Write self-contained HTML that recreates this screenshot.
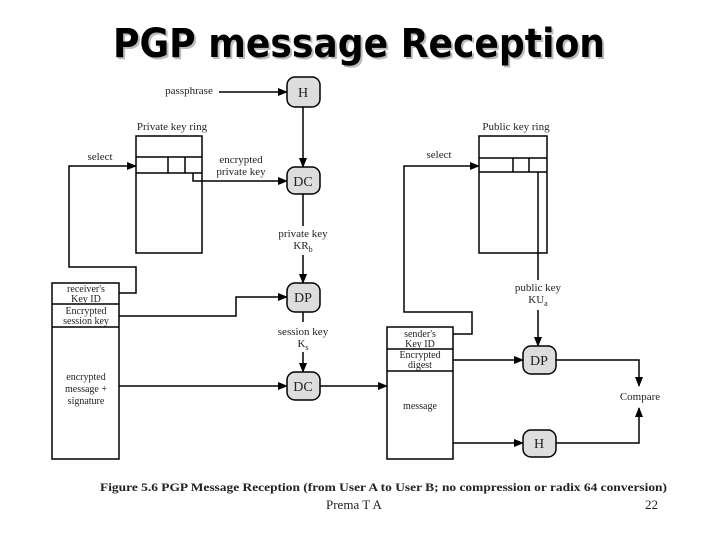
<!DOCTYPE html>
<html><head><meta charset="utf-8"><style>
html,body{margin:0;padding:0;background:#fff;}
svg{display:block;}
text{font-family:"Liberation Serif",serif;fill:#222;}
</style></head><body>
<svg width="720" height="540" viewBox="0 0 720 540" xmlns="http://www.w3.org/2000/svg">
<defs>
<marker id="a" markerWidth="10" markerHeight="8" refX="9" refY="4" orient="auto" markerUnits="userSpaceOnUse">
<path d="M0,0 L10,4 L0,8 z" fill="#000"/></marker>
</defs>
<text x="361" y="59" font-family="DejaVu Sans" font-weight="bold" font-size="40" textLength="492" lengthAdjust="spacingAndGlyphs" text-anchor="middle" style="font-family:'DejaVu Sans',sans-serif;fill:#bbb">PGP message Reception</text>
<text x="359" y="57" font-weight="bold" font-size="40" textLength="492" lengthAdjust="spacingAndGlyphs" text-anchor="middle" style="font-family:'DejaVu Sans',sans-serif;fill:#000">PGP message Reception</text>

<g stroke="#000" stroke-width="1.5" fill="none">
<!-- private key ring -->
<rect x="136" y="136" width="66" height="117"/>
<line x1="136" y1="157" x2="202" y2="157"/><line x1="136" y1="173" x2="202" y2="173"/>
<line x1="168" y1="157" x2="168" y2="173"/><line x1="185" y1="157" x2="185" y2="173"/>
<!-- public key ring -->
<rect x="479" y="136" width="68" height="117"/>
<line x1="479" y1="158" x2="547" y2="158"/><line x1="479" y1="172" x2="547" y2="172"/>
<line x1="513" y1="158" x2="513" y2="172"/><line x1="529" y1="158" x2="529" y2="172"/>
<!-- receiver box -->
<rect x="52" y="283" width="67" height="176"/>
<line x1="52" y1="304" x2="119" y2="304"/><line x1="52" y1="327" x2="119" y2="327"/>
<!-- sender box -->
<rect x="387" y="327" width="66" height="132"/>
<line x1="387" y1="349" x2="453" y2="349"/><line x1="387" y1="371" x2="453" y2="371"/>
<!-- connectors -->
<line x1="219" y1="92" x2="287" y2="92" marker-end="url(#a)"/>
<line x1="303" y1="107" x2="303" y2="167" marker-end="url(#a)"/>
<polyline points="193,173 193,181 287,181" marker-end="url(#a)"/>
<line x1="303" y1="194" x2="303" y2="226"/>
<line x1="303" y1="255" x2="303" y2="283" marker-end="url(#a)"/>
<polyline points="119,293 136,293 136,267 69,267 69,166 136,166" marker-end="url(#a)"/>
<polyline points="119,316 236,316 236,297 287,297" marker-end="url(#a)"/>
<line x1="303" y1="312" x2="303" y2="322"/>
<line x1="303" y1="352" x2="303" y2="372" marker-end="url(#a)"/>
<line x1="119" y1="386" x2="287" y2="386" marker-end="url(#a)"/>
<line x1="320" y1="386" x2="387" y2="386" marker-end="url(#a)"/>
<polyline points="453,334 472,334 472,312 404,312 404,166 479,166" marker-end="url(#a)"/>
<line x1="538" y1="172" x2="538" y2="280"/>
<line x1="538" y1="310" x2="538" y2="346" marker-end="url(#a)"/>
<line x1="453" y1="360" x2="523" y2="360" marker-end="url(#a)"/>
<line x1="453" y1="443" x2="523" y2="443" marker-end="url(#a)"/>
<polyline points="556,360 639,360 639,386" marker-end="url(#a)"/>
<polyline points="556,443 639,443 639,408" marker-end="url(#a)"/>
</g>
<g fill="#ddd" stroke="#000" stroke-width="1.5">
<rect x="287" y="77" width="33" height="30" rx="8"/>
<rect x="287" y="167" width="33" height="27" rx="8"/>
<rect x="287" y="283" width="33" height="29" rx="8"/>
<rect x="287" y="372" width="33" height="28" rx="8"/>
<rect x="523" y="346" width="33" height="28" rx="8"/>
<rect x="523" y="430" width="33" height="27" rx="8"/>
</g>
<g font-size="14" text-anchor="middle">
<text x="303" y="97">H</text>
<text x="303" y="186">DC</text>
<text x="303" y="302">DP</text>
<text x="303" y="391">DC</text>
<text x="539" y="365">DP</text>
<text x="539" y="448">H</text>
</g>
<g font-size="11" text-anchor="middle">
<text x="189" y="94">passphrase</text>
<text x="172" y="130">Private key ring</text>
<text x="516" y="130">Public key ring</text>
<text x="100" y="160">select</text>
<text x="439" y="158">select</text>
<text x="241" y="163">encrypted</text>
<text x="241" y="175">private key</text>
<text x="303" y="237">private key</text>
<text x="303" y="249">KR<tspan font-size="8" dy="3">b</tspan></text>
<text x="303" y="335">session key</text>
<text x="303" y="347">K<tspan font-size="8" dy="3">s</tspan></text>
<text x="538" y="291">public key</text>
<text x="538" y="303">KU<tspan font-size="8" dy="3">a</tspan></text>
<text x="640" y="400">Compare</text>
<g font-size="10">
<text x="86" y="292">receiver's</text>
<text x="86" y="302">Key ID</text>
<text x="86" y="314">Encrypted</text>
<text x="86" y="324">session key</text>
<text x="86" y="380">encrypted</text>
<text x="86" y="392">message +</text>
<text x="86" y="404">signature</text>
<text x="420" y="337">sender's</text>
<text x="420" y="347">Key ID</text>
<text x="420" y="358">Encrypted</text>
<text x="420" y="368">digest</text>
<text x="420" y="409">message</text>
</g>
</g>
<text x="100" y="491" font-size="11.5" font-weight="bold" textLength="567" lengthAdjust="spacingAndGlyphs">Figure 5.6   PGP Message Reception (from User A to User B; no compression or radix 64 conversion)</text>
<text x="326" y="509" font-size="13">Prema  T  A</text>
<text x="645" y="509" font-size="13">22</text>
</svg>
</body></html>
